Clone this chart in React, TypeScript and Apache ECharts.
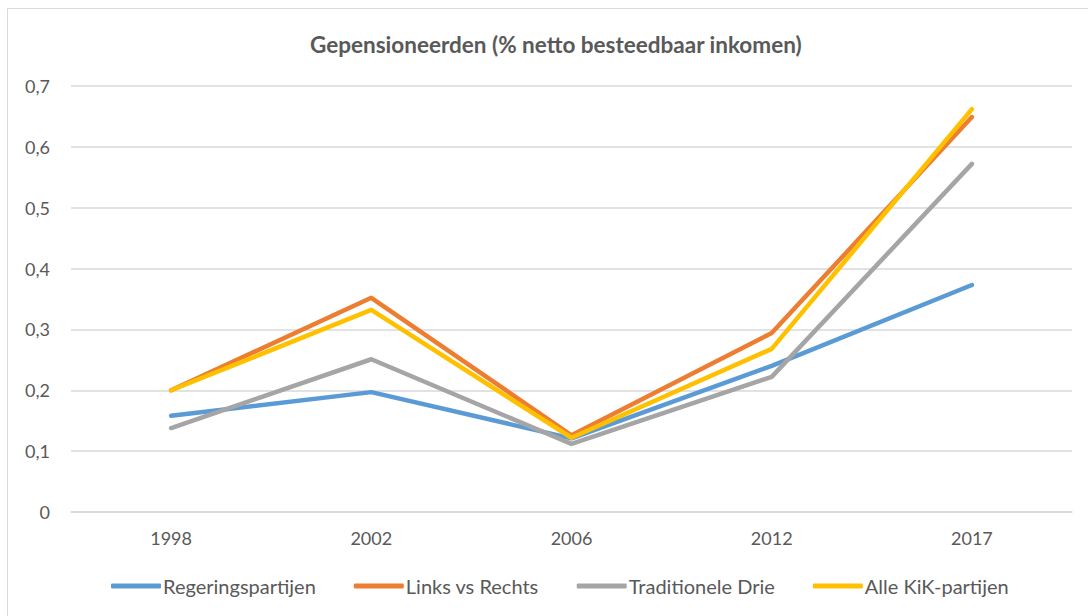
import React, { useEffect, useRef } from "react";
import * as echarts from "echarts";

const categories = ["1998", "2002", "2006", "2012", "2017"];
const regeringspartijen = [0.158, 0.197, 0.121, 0.24, 0.373];
const linksVsRechts = [0.2, 0.352, 0.126, 0.294, 0.649];
const traditioneleDrie = [0.138, 0.251, 0.112, 0.222, 0.572];
const alleKiK = [0.2, 0.332, 0.122, 0.268, 0.662];
const seriesNames = ["Regeringspartijen", "Links vs Rechts", "Traditionele Drie", "Alle KiK-partijen"];
const colors = ["#5B9BD5", "#ED7D31", "#A5A5A5", "#FFC000"];

const FONT = "Lato, 'Noto Sans', sans-serif";

export default function App() {
  const ref = useRef<HTMLDivElement>(null);
  useEffect(() => {
    if (!ref.current) return;
    const chart = echarts.init(ref.current, undefined, { renderer: "svg" });
    const data = [regeringspartijen, linksVsRechts, traditioneleDrie, alleKiK];
    chart.setOption({
      animation: false,
      backgroundColor: "#ffffff",
      title: {
        text: "Gepensioneerden (% netto besteedbaar inkomen)",
        left: 305,
        top: 28,
        textStyle: { fontFamily: FONT, fontSize: 22.5, fontWeight: "bold", color: "#595959" },
      },
      graphic: [
        {
          type: "rect",
          shape: { x: 7.5, y: 8.5, width: 1090, height: 620 },
          style: { fill: "none", stroke: "#d9d9d9", lineWidth: 1 },
          silent: true,
        },
      ],
      legend: {
        bottom: 15,
        left: 106,
        itemWidth: 50,
        itemHeight: 5,
        itemGap: 38,
        icon: "roundRect",
        data: seriesNames,
        textStyle: { fontFamily: FONT, fontSize: 20, color: "#595959", padding: [0, 0, 0, -3] },
      },
      grid: { left: 71, right: 16, top: 86, bottom: 104 },
      xAxis: {
        type: "category",
        data: categories,
        boundaryGap: true,
        axisLine: { lineStyle: { color: "#d9d9d9", width: 1.5 } },
        axisTick: { show: false },
        axisLabel: { fontFamily: FONT, fontSize: 18, color: "#595959", margin: 17 },
      },
      yAxis: {
        type: "value",
        min: 0,
        max: 0.7,
        interval: 0.1,
        axisLine: { show: false },
        axisTick: { show: false },
        splitLine: { lineStyle: { color: "#d9d9d9", width: 1.5 } },
        axisLabel: {
          fontFamily: FONT,
          fontSize: 18,
          color: "#595959",
          margin: 21,
          formatter: (v: number) => (Math.round(v * 10) / 10).toString().replace(".", ","),
        },
      },
      series: data.map((d, i) => ({
        name: seriesNames[i],
        type: "line",
        data: d,
        showSymbol: false,
        symbol: "none",
        color: colors[i],
        lineStyle: { width: 4.5, color: colors[i], cap: "round", join: "round" },
      })),
    });
    return () => chart.dispose();
  }, []);
  return (
    <div
      ref={ref}
      style={{ position: "absolute", left: 0, top: 0, width: 1088, height: 616 }}
    />
  );
}
